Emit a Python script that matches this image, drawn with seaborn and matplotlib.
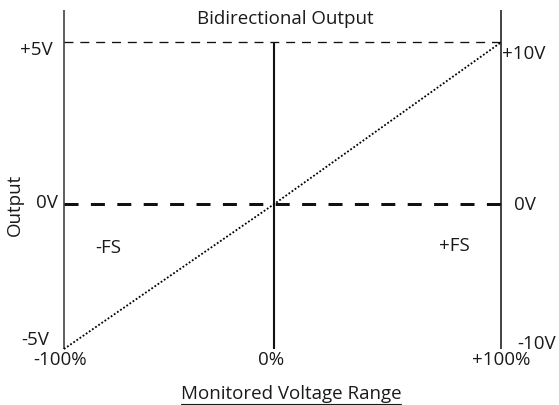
import numpy as np
import matplotlib
matplotlib.use("Agg")
import matplotlib.pyplot as plt
import seaborn as sns
from matplotlib.lines import Line2D

# monitored range (%) and bidirectional output (V)
pct = [-100, 0, 100]
out_v = [-5, 0, 5]
x_labels = ["-100%", "0%", "+100%"]
left_labels = ["-5V", "0V", "+5V"]
right_labels = ["-10V", "0V", "+10V"]
side_labels = ["-FS", "+FS"]

sns.set_style("white")
plt.rcParams["font.family"] = ["Open Sans", "DejaVu Sans"]
fs = 13.5
txt_color = "#1a1a1a"

fig = plt.figure(figsize=(5.59, 4.06), dpi=100)
ax = fig.add_axes([64 / 559, 56 / 406, 437 / 559, 339 / 406])


def half_scale(k):
    # the negative half of the schematic is drawn a bit shorter than the positive half
    f = lambda v: np.where(np.asarray(v) >= 0, v, np.asarray(v) * k)
    g = lambda t: np.where(np.asarray(t) >= 0, t, np.asarray(t) / k)
    return f, g


ax.set_xscale("function", functions=half_scale(210 / 227))
ax.set_yscale("function", functions=half_scale(29.0 / 32.4))
ax.set_xlim(-100, 100)
ax.set_ylim(-5, 6)
ax.axis("off")

# frame lines
ax.vlines(pct[0], -5, 6, color="#333333", lw=1.1, clip_on=False)
ax.vlines(pct[2], -5, 6, color="#111111", lw=1.1, clip_on=False)
ax.vlines(pct[1], -5, out_v[2], color="#111111", lw=1.5, clip_on=False)
ax.axhline(out_v[2], color="#111111", lw=0.95, dashes=(6.8, 5.2))
ax.axhline(out_v[1], color="#111111", lw=2.16, dashes=(4.67, 4.13))

sns.lineplot(x=pct, y=out_v, ax=ax, color="#000000", lw=1.3, dashes=False,
             clip_on=False).lines[-1].set_dashes((1.0, 1.1))


def lab(s, xy, off, ha):
    ax.annotate(s, xy=xy, xytext=off, textcoords="offset pixels",
                ha=ha, va="center", color=txt_color, fontsize=fs,
                annotation_clip=False)


# left output labels
lab(left_labels[0], (pct[0], out_v[0]), (-15, 10), "right")
lab(left_labels[1], (pct[0], out_v[1]), (-6, 2), "right")
lab(left_labels[2], (pct[0], out_v[2]), (-11, -7), "right")
# right output labels
lab(right_labels[0], (pct[2], out_v[0]), (16, 6), "left")
lab(right_labels[1], (pct[2], out_v[1]), (13, 0), "left")
lab(right_labels[2], (pct[2], out_v[2]), (1, -11), "left")
# x labels
lab(x_labels[0], (pct[0], out_v[0]), (-4, -10), "center")
lab(x_labels[1], (pct[1], out_v[0]), (-3, -10), "center")
lab(x_labels[2], (pct[2], out_v[0]), (0, -10), "center")
# full scale markers
lab(side_labels[0], (pct[0], out_v[1]), (31, -43), "left")
lab(side_labels[1], (pct[2], out_v[1]), (-31, -41), "right")

fig.text(285 / 559, 1 - 19 / 406, "Bidirectional Output", ha="center",
         va="center", color=txt_color, fontsize=fs)
fig.text(15 / 559, 1 - 205 / 406, "Output", rotation=90, ha="center",
         va="center", color=txt_color, fontsize=fs)
xl = fig.text(291 / 559, 1 - 394 / 406, "Monitored Voltage Range", ha="center",
              va="center", color=txt_color, fontsize=fs)

fig.canvas.draw()
bb = xl.get_window_extent()
fig.add_artist(Line2D([bb.x0 / 559, bb.x1 / 559], [1.5 / 406, 1.5 / 406],
                      transform=fig.transFigure, color=txt_color, lw=0.8))

fig.savefig("out.png", dpi=100)
